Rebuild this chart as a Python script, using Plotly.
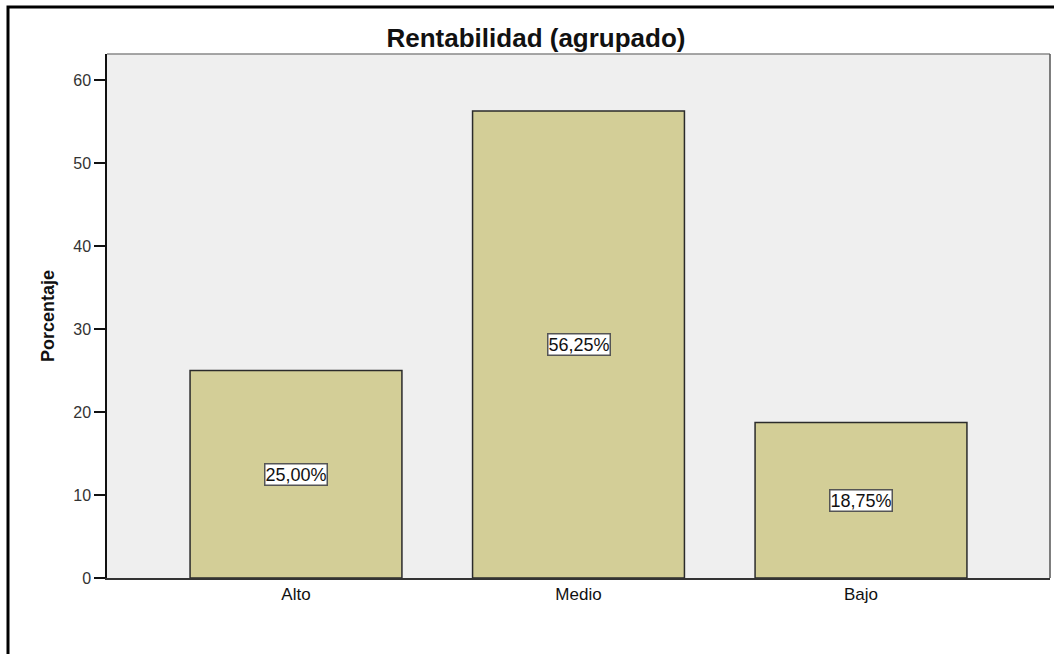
import plotly.graph_objects as go

categories = ["Alto", "Medio", "Bajo"]
percentages = [25.00, 56.25, 18.75]
value_labels = ["25,00%", "56,25%", "18,75%"]
y_ticks = [0, 10, 20, 30, 40, 50, 60]

W, H = 1054, 654
L, R, T, B = 107, 4, 54, 76
PW, PH = W - L - R, H - T - B
FONT = "Arial, Liberation Sans"

fig = go.Figure()
fig.add_trace(go.Bar(
    x=categories, y=percentages, width=0.75,
    marker=dict(color="#D3CE97", line=dict(color="#2b2b2b", width=1.5)),
    hoverinfo="skip",
))

for c, v, lab in zip(categories, percentages, value_labels):
    fig.add_annotation(
        x=c, y=v / 2, text=lab, showarrow=False,
        font=dict(family=FONT, size=18, color="#111"),
        bgcolor="white", bordercolor="#555", borderwidth=1.5, borderpad=0,
    )

fig.add_annotation(
    xref="paper", yref="paper", x=(48 - L) / PW, y=0.5, text="<b>Porcentaje</b>",
    textangle=-90, showarrow=False, xanchor="center", yanchor="middle",
    font=dict(family=FONT, size=18, color="#111"),
)

fig.update_layout(
    width=W, height=H,
    margin=dict(l=L, r=R, t=T, b=B),
    paper_bgcolor="white", plot_bgcolor="#EFEFEF",
    showlegend=False,
    title=dict(text="<b>Rentabilidad (agrupado)</b>", xref="container", x=536 / W,
               xanchor="center", y=1 - 38 / H, yanchor="middle",
               font=dict(family=FONT, size=26, color="#111")),
    xaxis=dict(range=[-0.669, 2.669], showgrid=False, ticks="", showline=True,
               linecolor="#333", linewidth=1.5,
               tickfont=dict(family=FONT, size=17, color="#111")),
    yaxis=dict(range=[0, PH / 8.3], tickvals=y_ticks, showgrid=False, zeroline=False,
               ticks="outside", ticklen=11, tickwidth=1.5, tickcolor="#111",
               showline=True, linecolor="#111", linewidth=1.5,
               tickfont=dict(family=FONT, size=16, color="#333")),
)

# plot frame top/right in grey
fig.add_shape(type="line", xref="paper", yref="paper", x0=0, x1=1, y0=1, y1=1,
              line=dict(color="#888", width=1.5))
fig.add_shape(type="line", xref="paper", yref="paper", x0=1, x1=1, y0=0, y1=1,
              line=dict(color="#555", width=1.5))

# outer chart border
fig.add_shape(type="rect", xref="paper", yref="paper",
              x0=(8 - L) / PW, x1=(1062 - L) / PW,
              y0=(H - B - 665) / PH, y1=(H - B - 7) / PH,
              line=dict(color="black", width=3), layer="above")

fig.write_html("out.html")
